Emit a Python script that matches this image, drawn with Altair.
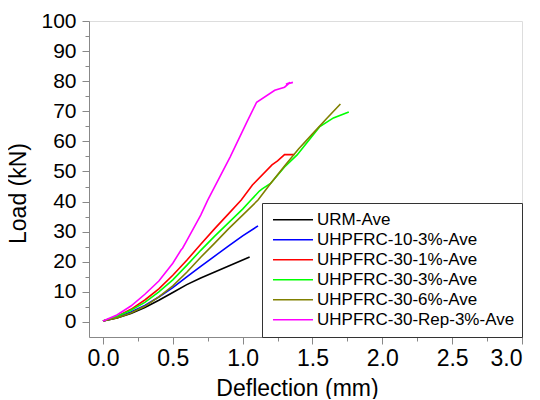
import altair as alt
import pandas as pd

series_names = ["URM-Ave", "UHPFRC-10-3%-Ave", "UHPFRC-30-1%-Ave",
                "UHPFRC-30-3%-Ave", "UHPFRC-30-6%-Ave", "UHPFRC-30-Rep-3%-Ave"]
series_colors = ["#000000", "#0000FF", "#FF0000", "#00FF00", "#808000", "#FF00FF"]

urm_x = [0.0, 0.1, 0.2, 0.3, 0.4, 0.5, 0.6, 0.7, 0.8, 0.9, 1.0, 1.05]
urm_y = [0.3, 1.3, 2.8, 4.8, 7.2, 9.8, 12.4, 14.6, 16.6, 18.6, 20.6, 21.6]

u10_3_x = [0.0, 0.1, 0.2, 0.3, 0.4, 0.5, 0.6, 0.7, 0.8, 0.9, 1.0, 1.11]
u10_3_y = [0.3, 1.5, 3.3, 5.5, 8.3, 11.4, 15.0, 18.5, 21.9, 25.3, 28.6, 31.9]

u30_1_x = [0.0, 0.1, 0.2, 0.3, 0.4, 0.5, 0.6, 0.7, 0.8, 0.9, 0.99, 1.07, 1.21, 1.25, 1.3, 1.37]
u30_1_y = [0.3, 1.8, 4.2, 7.3, 11.0, 15.5, 20.5, 25.8, 31.0, 36.0, 40.5, 45.5, 52.2, 53.5, 55.6, 55.6]

u30_3_x = [0.0, 0.1, 0.2, 0.3, 0.4, 0.5, 0.6, 0.7, 0.8, 0.9, 1.0, 1.06, 1.12, 1.14, 1.2, 1.3, 1.39, 1.55, 1.65, 1.76]
u30_3_y = [0.3, 1.8, 3.9, 6.5, 10.0, 14.0, 18.8, 23.8, 28.5, 33.0, 37.5, 40.5, 43.5, 44.2, 46.0, 51.5, 55.5, 64.8, 67.8, 69.8]

u30_6_x = [0.0, 0.1, 0.2, 0.3, 0.4, 0.5, 0.6, 0.7, 0.8, 0.9, 1.0, 1.11, 1.2, 1.3, 1.4, 1.5, 1.6, 1.7]
u30_6_y = [0.3, 1.3, 3.0, 5.2, 8.3, 12.0, 16.5, 21.5, 26.2, 31.0, 35.5, 40.5, 46.0, 51.8, 57.5, 62.5, 67.5, 72.4]

rep_x = [0.0, 0.1, 0.2, 0.3, 0.4, 0.5, 0.56, 0.57, 0.6, 0.7, 0.75, 0.91, 1.03, 1.1, 1.23, 1.3, 1.34, 1.31, 1.36]
rep_y = [0.3, 2.3, 5.3, 9.2, 13.6, 19.5, 24.0, 24.5, 27.0, 35.5, 40.5, 54.8, 66.4, 73.0, 77.0, 78.0, 79.6, 79.0, 79.6]

xs = [urm_x, u10_3_x, u30_1_x, u30_3_x, u30_6_x, rep_x]
ys = [urm_y, u10_3_y, u30_1_y, u30_3_y, u30_6_y, rep_y]

rows = []
for name, sx, sy in zip(series_names, xs, ys):
    for i, (a, b) in enumerate(zip(sx, sy)):
        rows.append({"series": name, "x": a, "y": b, "i": i})
df = pd.DataFrame(rows)

x_major = [0.0, 0.5, 1.0, 1.5, 2.0, 2.5, 3.0]
x_minor = [0.25, 0.75, 1.25, 1.75, 2.25, 2.75]
y_major = [0, 10, 20, 30, 40, 50, 60, 70, 80, 90, 100]
y_minor = [5, 15, 25, 35, 45, 55, 65, 75, 85, 95]

FONT = "Liberation Sans"

xscale = alt.Scale(domain=[-0.1, 3.0], nice=False, zero=False)
yscale = alt.Scale(domain=[-5, 100], nice=False, zero=False)

lines = alt.Chart(df).mark_line(strokeWidth=1.6, clip=True).encode(
    x=alt.X("x:Q", scale=xscale,
            axis=alt.Axis(values=x_major, format=".1f", title="Deflection (mm)",
                          labelFontSize=23, titleFontSize=23, tickSize=7,
                          labelPadding=3, titlePadding=7, grid=False, titleX=208,
                          titleFontWeight="normal", titleFont=FONT, labelFont=FONT)),
    y=alt.Y("y:Q", scale=yscale,
            axis=alt.Axis(values=y_major, format="d", title="Load (kN)",
                          labelFontSize=21, titleFontSize=23, tickSize=7,
                          labelPadding=6, titlePadding=10, grid=False, titleY=172,
                          titleFontWeight="normal", titleFont=FONT, labelFont=FONT)),
    color=alt.Color("series:N",
                    scale=alt.Scale(domain=series_names, range=series_colors),
                    legend=alt.Legend(title=None, orient="none", legendX=173, legendY=182,
                                      symbolType="stroke", symbolSize=1600,
                                      symbolStrokeWidth=1.5, symbolOffset=3,
                                      labelFontSize=17, labelFont=FONT, labelOffset=3,
                                      clipHeight=19.5, rowPadding=0, padding=7,
                                      strokeColor="#333333", fillColor="white",
                                      labelLimit=400)),
    order="i:Q",
    detail="series:N",
)

minor = alt.Chart(pd.DataFrame({"x": [0.0], "y": [0.0]})).mark_point(opacity=0).encode(
    x=alt.X("x:Q", scale=xscale,
            axis=alt.Axis(values=x_minor, labels=False, title=None, tickSize=4,
                          domain=False, grid=False, orient="bottom")),
    y=alt.Y("y:Q", scale=yscale,
            axis=alt.Axis(values=y_minor, labels=False, title=None, tickSize=4,
                          domain=False, grid=False, orient="left")),
)

chart = alt.layer(lines, minor).resolve_axis(x="independent", y="independent").properties(
    width=433, height=316,
    autosize=alt.AutoSizeParams(type="none"),
    padding={"left": 81, "top": 13, "right": 10, "bottom": 62},
).configure_view(stroke="#444444", strokeWidth=1.5).configure_axis(
    labelFont=FONT, titleFont=FONT, labelColor="black", titleColor="black",
    tickColor="black", domainColor="black", tickWidth=1.5, domainWidth=1.5,
    titleFontWeight="normal",
).configure(background="white")

chart.save("out.html", embed_options={"renderer": "svg", "actions": False})
